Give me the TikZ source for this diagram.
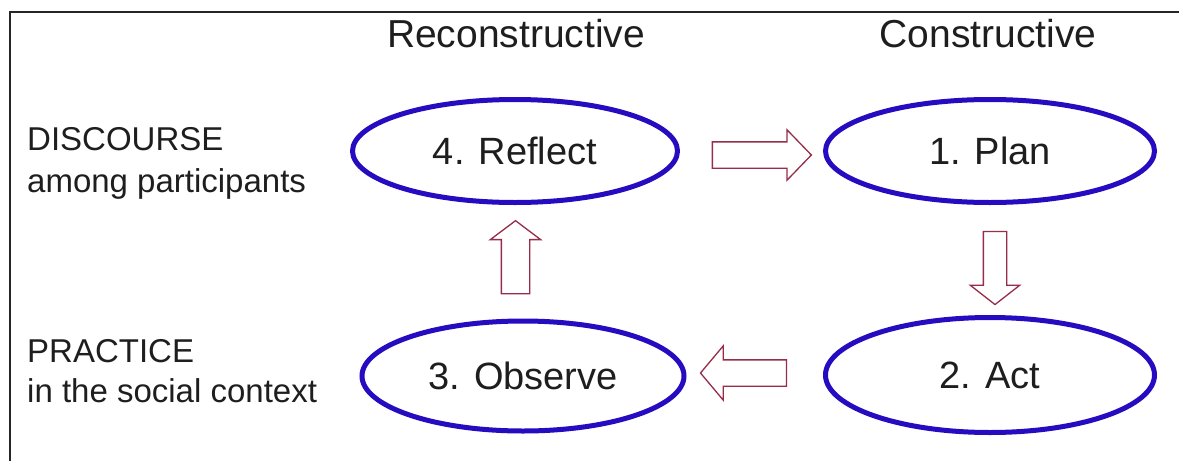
\documentclass[tikz,border=0pt]{standalone}
\usepackage{fontspec}
\setmainfont{Liberation Sans}
\usetikzlibrary{shapes.geometric,shapes.arrows}
\definecolor{ellblue}{RGB}{38,12,192}
\definecolor{arrred}{RGB}{150,45,75}
\definecolor{txt}{RGB}{30,30,30}
\tikzset{
  ell/.style={ellipse, draw=ellblue, line width=5pt, inner sep=0pt, text=txt,
              font=\fontsize{38}{44}\selectfont},
  title/.style={anchor=base, text=txt, inner sep=0pt, font=\fontsize{39}{46}\selectfont},
  side/.style={anchor=base west, text=txt, inner sep=0pt, font=\fontsize{33}{40}\selectfont},
  blockarrow/.style={single arrow, draw=arrred, fill=white, line width=1.3pt,
              inner sep=0pt, minimum width=0pt}
}
\begin{document}
\begin{tikzpicture}[x=1pt,y=-1pt]
\useasboundingbox (0,0) rectangle (1179,461);
\fill[white] (0,0) rectangle (1179,461);
\draw[line width=2pt, black!85] (10,461) -- (10,12) -- (1179,12);

\node[title] (recon) at (516,47) {Reconstructive};
\node[title] (cons) at (988,47) {Constructive};

\node[side] (disc) at (27,150) {DISCOURSE};
\node[side] (among) at (27,192) {among participants};
\node[side] (prac) at (27,362) {PRACTICE};
\node[side] (soc) at (27,402) {in the social context};

\node[ell, minimum width=325pt, minimum height=103pt] (reflect) at (515,151) {4. Reflect};
\node[ell, minimum width=329pt, minimum height=103pt] (plan) at (990,151) {1. Plan};
\node[ell, minimum width=322pt, minimum height=110pt] (observe) at (523,376) {3. Observe};
\node[ell, minimum width=329pt, minimum height=115pt] (act) at (990,375) {2. Act};

\node[blockarrow, minimum height=99pt, single arrow head extend=12pt,
      single arrow tip angle=92] (a1) at (755.5,155) {\rule{0pt}{25pt}};
\node[blockarrow, rotate=-90, minimum height=73pt, single arrow head extend=13pt,
      single arrow tip angle=104] (a2) at (995,263.5) {\rule{0pt}{22pt}};
\node[blockarrow, rotate=180, minimum height=86pt, single arrow head extend=14pt,
      single arrow tip angle=100] (a3) at (749,373) {\rule{0pt}{25pt}};
\node[blockarrow, rotate=90, minimum height=73pt, single arrow head extend=11pt,
      single arrow tip angle=106] (a4) at (515.5,262.5) {\rule{0pt}{27pt}};
\end{tikzpicture}
\end{document}
